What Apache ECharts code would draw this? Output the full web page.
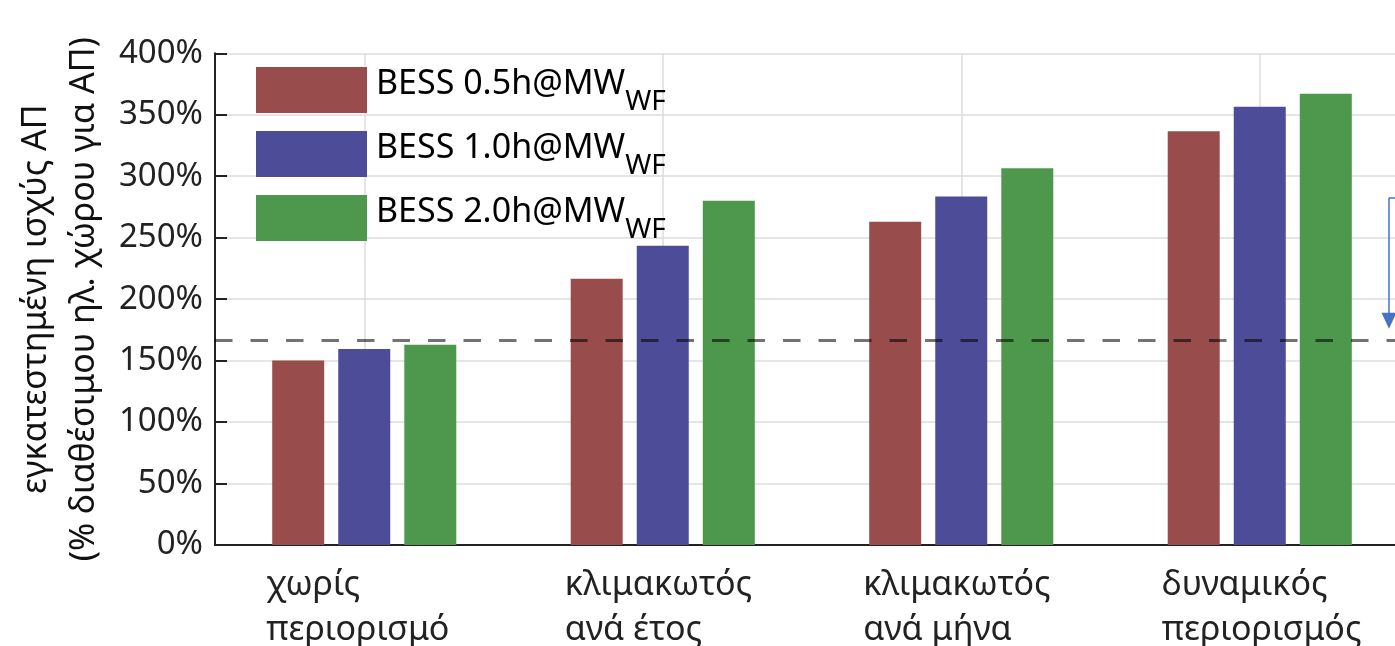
<!DOCTYPE html>
<html>
<head>
<meta charset="utf-8">
<script src="https://cdn.jsdelivr.net/npm/echarts@6/dist/echarts.min.js"></script>
<style>html,body{margin:0;padding:0;background:#fff;}#c{width:1395px;height:646px;}</style>
</head>
<body>
<div id="c"></div>
<script>
const categories = ['χωρίς\nπεριορισμό', 'κλιμακωτός\nανά έτος', 'κλιμακωτός\nανά μήνα', 'δυναμικός\nπεριορισμός'];
const seriesNames = ['BESS 0.5h@MW', 'BESS 1.0h@MW', 'BESS 2.0h@MW'];
const bess05 = [150, 216.5, 263, 336.5];
const bess10 = [159.5, 243.5, 283.5, 356.5];
const bess20 = [163, 280, 306.5, 367];
const thresholdValue = 166.5;
const yTicks = [0, 50, 100, 150, 200, 250, 300, 350, 400];
const arrowX = 3.933;
const arrowTop = 282.5;
const arrowBottom = 175.5;

const colors = ['#984d4c', '#4c4c98', '#4e984e'];
const FONT = 'Noto Sans';
const chart = echarts.init(document.getElementById('c'), null, {renderer: 'canvas'});

const makeBar = (name, data, color, extra) => Object.assign({
  name: name,
  type: 'bar',
  data: data,
  barWidth: 52,
  barGap: '27%',
  itemStyle: {color: color},
  xAxisIndex: 0,
  yAxisIndex: 0
}, extra || {});

chart.setOption({
  animation: false,
  textStyle: {fontFamily: FONT},
  grid: {left: 215, top: 53.3, bottom: 101, right: -14, containLabel: false, outerBoundsMode: 'none'},
  legend: {
    orient: 'vertical',
    left: 256,
    top: 64,
    padding: 0,
    itemWidth: 111,
    itemHeight: 46,
    itemGap: 12,
    icon: 'rect',
    data: seriesNames,
    formatter: n => '{a|' + n + '}{s|WF}',
    textStyle: {
      rich: {
        a: {fontSize: 34, lineHeight: 34, fontFamily: FONT, color: '#000', padding: [3, 0, 15, 4]},
        s: {fontSize: 28, lineHeight: 28, fontFamily: FONT, color: '#000', padding: [24, 0, 0, 0]}
      }
    }
  },
  xAxis: [{
    type: 'category',
    data: categories,
    axisLine: {show: true, lineStyle: {color: '#222', width: 2}},
    axisTick: {show: false},
    splitLine: {show: true, alignWithLabel: true, lineStyle: {color: '#dcdcdc', width: 1.5}},
    axisLabel: {
      margin: 18,
      formatter: v => v.split('\n').map(l => '{t|' + l + '}').join('\n'),
      rich: {t: {fontSize: 34, fontFamily: FONT, color: '#222', width: 196, align: 'left', lineHeight: 45}}
    }
  }, {
    type: 'value',
    min: 0,
    max: 4,
    show: false
  }],
  yAxis: {
    type: 'value',
    min: 0,
    max: 400,
    interval: 50,
    name: 'εγκατεστημένη ισχύς ΑΠ\n(% διαθέσιμου ηλ. χώρου για ΑΠ)',
    nameLocation: 'middle',
    nameRotate: 90,
    nameGap: 102,
    nameTextStyle: {fontSize: 34, fontFamily: FONT, color: '#111', lineHeight: 48},
    axisLine: {show: true, lineStyle: {color: '#222', width: 2}},
    axisTick: {show: true, inside: true, length: 12, lineStyle: {color: '#222', width: 2}},
    splitLine: {show: true, lineStyle: {color: '#dcdcdc', width: 1.5}},
    axisLabel: {
      margin: 12,
      fontSize: 33,
      fontFamily: FONT,
      color: '#222',
      formatter: v => (yTicks.indexOf(v) >= 0 ? v + '%' : '')
    }
  },
  series: [
    makeBar(seriesNames[0], bess05, colors[0], {
      markLine: {
        silent: true,
        symbol: ['none', 'none'],
        z: 10,
        label: {show: false},
        lineStyle: {color: 'rgba(0,0,0,0.55)', width: 3, type: [17.5, 18]},
        data: [{yAxis: thresholdValue}]
      }
    }),
    makeBar(seriesNames[1], bess10, colors[1]),
    makeBar(seriesNames[2], bess20, colors[2]),
    {
      name: 'arrow',
      type: 'line',
      xAxisIndex: 1,
      yAxisIndex: 0,
      data: [],
      markLine: {
        silent: true,
        z: 12,
        label: {show: false},
        symbol: ['none', 'triangle'],
        symbolSize: [15, 16],
        lineStyle: {color: '#4472c4', width: 1.5, type: 'solid'},
        data: [
          [{coord: [arrowX, arrowTop], symbol: 'none'}, {coord: [arrowX, arrowBottom + 7], symbol: 'triangle'}],
          [{coord: [arrowX, arrowTop], symbol: 'none'}, {coord: [4, arrowTop], symbol: 'none'}]
        ]
      }
    }
  ]
});
</script>
</body>
</html>
